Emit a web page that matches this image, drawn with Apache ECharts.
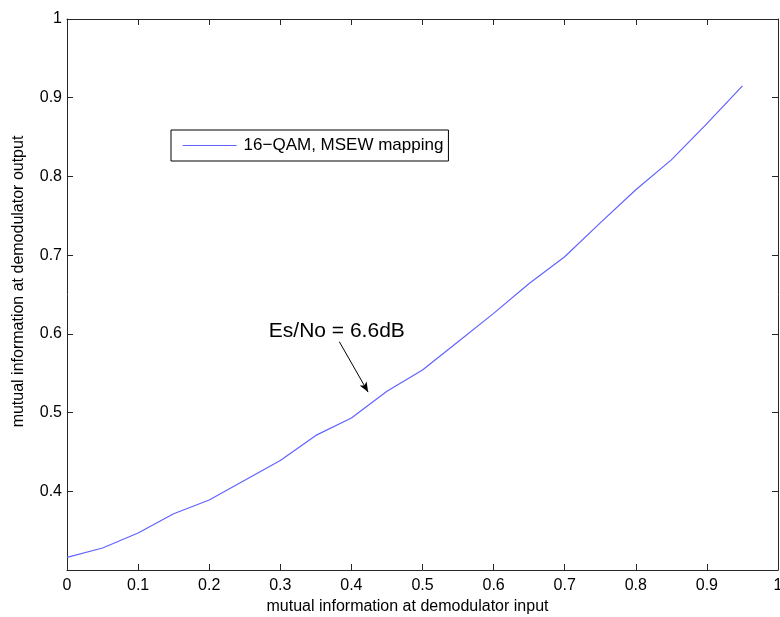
<!DOCTYPE html>
<html>
<head>
<meta charset="utf-8">
<script src="https://cdn.jsdelivr.net/npm/echarts@6/dist/echarts.min.js"></script>
<style>
  html, body { margin: 0; padding: 0; background: #fff; }
  #chart { width: 780px; height: 617px; }
</style>
</head>
<body>
<div id="chart"></div>
<script>
// Mutual information transfer of the demodulator
const xValues = [0, 0.05, 0.1, 0.15, 0.2, 0.25, 0.3, 0.35, 0.4, 0.45,
                 0.5, 0.55, 0.6, 0.65, 0.7, 0.75, 0.8, 0.85, 0.9, 0.95];
const yValues = [0.316, 0.328, 0.347, 0.3715, 0.389, 0.414, 0.439, 0.471, 0.493, 0.527,
                 0.554, 0.590, 0.626, 0.664, 0.698, 0.741, 0.783, 0.821, 0.867, 0.915];
const seriesName = '16\u2212QAM, MSEW mapping';
const xTitle = 'mutual information at demodulator input';
const yTitle = 'mutual information at demodulator output';
const xTickLabels = ['0', '0.1', '0.2', '0.3', '0.4', '0.5', '0.6', '0.7', '0.8', '0.9', '1'];
const yTickLabels = ['', '0.4', '0.5', '0.6', '0.7', '0.8', '0.9', '1'];

// Annotation: text plus arrow pointing at the curve (data coordinates)
const annotationText = 'Es/No = 6.6dB';
const annotationAt = [0.3795, 0.604];
const arrowFrom = [0.383, 0.590];
const arrowTo = [0.4235, 0.526];

const FONT = 'Liberation Sans, Arial, Helvetica, sans-serif';
const AXIS_COLOR = '#262626';
const LINE_COLOR = '#6262ff';

const chart = echarts.init(document.getElementById('chart'), null, { renderer: 'canvas' });

const tickStyle = { show: true, inside: true, length: 6, lineStyle: { color: AXIS_COLOR, width: 1 } };
const lineStyleAxis = { show: true, onZero: false, lineStyle: { color: AXIS_COLOR, width: 1 } };

chart.setOption({
  animation: false,
  backgroundColor: '#ffffff',
  textStyle: { fontFamily: FONT },
  grid: {
    left: 67, top: 19, right: 2, bottom: 47,
    containLabel: false, outerBoundsMode: 'none', show: false
  },
  legend: {
    show: true,
    left: 171,
    top: 130,
    orient: 'horizontal',
    backgroundColor: '#ffffff',
    borderColor: '#000000',
    borderWidth: 1,
    borderRadius: 0,
    padding: [7, 5, 7, 11],
    itemWidth: 54,
    itemHeight: 14,
    itemGap: 0,
    selectedMode: false,
    itemStyle: { opacity: 0 },
    lineStyle: { width: 1.2, color: LINE_COLOR },
    textStyle: { fontSize: 17, color: '#000', fontFamily: FONT, padding: [0, 0, 0, 2] },
    data: [seriesName]
  },
  xAxis: [
    {
      type: 'value', min: 0, max: 1, interval: 0.1, position: 'bottom',
      name: xTitle, nameLocation: 'middle', nameGap: 26,
      nameTextStyle: { fontSize: 16, color: '#000', fontFamily: FONT, padding: [0, 30, 0, 0] },
      axisLine: lineStyleAxis, axisTick: tickStyle,
      axisLabel: {
        fontSize: 16, color: '#000', margin: 8, fontFamily: FONT, showMaxLabel: true,
        formatter: (v) => xTickLabels[Math.round(v * 10)] ?? ''
      },
      splitLine: { show: false }
    },
    {
      type: 'value', min: 0, max: 1, interval: 0.1, position: 'top',
      axisLine: lineStyleAxis, axisTick: tickStyle,
      axisLabel: { show: false }, splitLine: { show: false }
    }
  ],
  yAxis: [
    {
      type: 'value', min: 0.3, max: 1, interval: 0.1, position: 'left',
      name: yTitle, nameLocation: 'middle', nameGap: 40,
      nameTextStyle: { fontSize: 16, color: '#000', fontFamily: FONT, padding: [0, 0, 0, 26] },
      axisLine: lineStyleAxis, axisTick: tickStyle,
      axisLabel: {
        fontSize: 16, color: '#000', margin: 5, fontFamily: FONT,
        formatter: (v) => yTickLabels[Math.round((v - 0.3) * 10)] ?? ''
      },
      splitLine: { show: false }
    },
    {
      type: 'value', min: 0.3, max: 1, interval: 0.1, position: 'right',
      axisLine: lineStyleAxis, axisTick: tickStyle,
      axisLabel: { show: false }, splitLine: { show: false }
    }
  ],
  series: [
    {
      name: seriesName,
      type: 'line',
      xAxisIndex: 0,
      yAxisIndex: 0,
      data: xValues.map((x, i) => [x, yValues[i]]),
      showSymbol: false,
      symbol: 'none',
      lineStyle: { color: LINE_COLOR, width: 1.2 },
      itemStyle: { color: LINE_COLOR },
      emphasis: { disabled: true },
      markPoint: {
        silent: true,
        symbol: 'circle',
        symbolSize: 0,
        data: [{ coord: annotationAt, value: annotationText }],
        label: {
          show: true, position: 'inside', formatter: annotationText,
          fontSize: 21, color: '#000', fontFamily: FONT
        }
      },
      markLine: {
        silent: true,
        symbol: ['none', 'arrow'],
        symbolSize: [6, 10],
        precision: 4,
        lineStyle: { color: '#000', width: 1, type: 'solid' },
        label: { show: false },
        data: [[{ coord: arrowFrom }, { coord: arrowTo }]]
      }
    }
  ]
});
</script>
</body>
</html>
